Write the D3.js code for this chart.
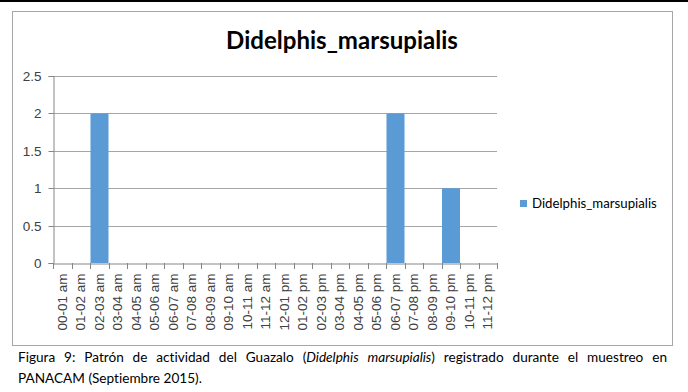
<!DOCTYPE html>
<html><head><meta charset="utf-8">
<script src="https://cdn.jsdelivr.net/npm/d3@7/dist/d3.min.js"></script>
<style>
html,body{margin:0;padding:0;background:#fff;}
svg{display:block;}
text{font-variant-ligatures:none;font-feature-settings:"liga" 0, "dlig" 0;}
</style></head>
<body>
<script>
const categories = ["00-01 am","01-02 am","02-03 am","03-04 am","04-05 am","05-06 am","06-07 am","07-08 am","08-09 am","09-10 am","10-11 am","11-12 am","12-01 pm","01-02 pm","02-03 pm","03-04 pm","04-05 pm","05-06 pm","06-07 pm","07-08 pm","08-09 pm","09-10 pm","10-11 pm","11-12 pm"];
const values = [0,0,2,0,0,0,0,0,0,0,0,0,0,0,0,0,0,0,2,0,0,1,0,0];
const yTicks = [0,0.5,1,1.5,2,2.5];
const seriesName = "Didelphis_marsupialis";
const title = "Didelphis_marsupialis";
const captionLine1 = [["Figura",""],["9:",""],["Patrón",""],["de",""],["actividad",""],["del",""],["Guazalo",""],["(","","Didelphis","i"],["marsupialis","i",")",""],["registrado",""],["durante",""],["el",""],["muestreo",""],["en",""]];
const captionLine2 = "PANACAM (Septiembre 2015).";

const W = 688, H = 392;
const svg = d3.select("body").append("svg").attr("width", W).attr("height", H);

// top black rule
svg.append("rect").attr("x",0).attr("y",0).attr("width",W).attr("height",2).attr("fill","#000");

// chart frame
svg.append("rect").attr("x",12.5).attr("y",11.5).attr("width",660).attr("height",334)
  .attr("fill","#fff").attr("stroke","#a6a6a6").attr("stroke-width",1);

const plot = {left:53, right:497, top:76, bottom:263};
const x = d3.scaleBand().domain(categories).range([plot.left, plot.right]).paddingInner(0).paddingOuter(0);
const y = d3.scaleLinear().domain([0,2.5]).range([plot.bottom, plot.top]);

// gridlines
svg.append("g").selectAll("line").data(yTicks.filter(d=>d>0)).join("line")
  .attr("x1",plot.left).attr("x2",plot.right)
  .attr("y1",d=>Math.round(y(d))+0.5).attr("y2",d=>Math.round(y(d))+0.5)
  .attr("stroke","#a6a6a6").attr("stroke-width",1);

// bars
svg.append("g").selectAll("rect").data(values.map((v,i)=>({c:categories[i],v}))).join("rect")
  .attr("x",d=>x(d.c)+0.5).attr("width",x.bandwidth()-0.5)
  .attr("y",d=>y(d.v)).attr("height",d=>y(0)-y(d.v))
  .attr("fill","#5b9bd5");

// y axis
const yAxis = svg.append("g").attr("transform",`translate(${plot.left+0.5},0)`)
  .call(d3.axisLeft(y).tickValues(yTicks).tickSize(5).tickPadding(7).tickFormat(d3.format("")));
yAxis.select(".domain").attr("stroke","#868686");
yAxis.selectAll(".tick line").attr("stroke","#868686");
yAxis.selectAll(".tick text").attr("font-family","'Liberation Sans', Arial, sans-serif").attr("font-size",13.5).attr("fill","#404040");
yAxis.selectAll(".tick").attr("transform",d=>`translate(0,${Math.round(y(d))+0.5})`);

// x axis
const xAxis = svg.append("g").attr("transform",`translate(0,${plot.bottom+0.5})`)
  .call(d3.axisBottom(x).tickSize(0).tickPadding(0));
xAxis.select(".domain").attr("stroke","#868686");
xAxis.selectAll(".tick text")
  .attr("font-family","'Liberation Sans', Arial, sans-serif").attr("font-size",13.5).attr("fill","#404040")
  .attr("transform","rotate(-90)").attr("text-anchor","end").attr("dy","0.35em").attr("x",-10).attr("y",0);
// category boundary tick marks
const bounds = categories.map(c=>x(c)).concat([plot.right]);
svg.append("g").selectAll("line").data(bounds).join("line")
  .attr("x1",d=>Math.round(d)+0.5).attr("x2",d=>Math.round(d)+0.5)
  .attr("y1",plot.bottom).attr("y2",plot.bottom+6)
  .attr("stroke","#868686");

// helper to fit text width
function fit(sel, target){
  const w = sel.node().getComputedTextLength();
  const fs = parseFloat(sel.attr("font-size"));
  sel.attr("font-size", fs*target/w);
}

// title
const t = svg.append("text").attr("x",342).attr("y",49).attr("text-anchor","middle")
  .attr("font-family","Lato, 'Open Sans', sans-serif").attr("font-weight","bold")
  .attr("font-size",22).attr("fill","#000").text(title);
fit(t, 232);

// legend
svg.append("rect").attr("x",520).attr("y",200).attr("width",7).attr("height",7).attr("fill","#5b9bd5");
const lt = svg.append("text").attr("x",532).attr("y",208)
  .attr("font-family","Lato, 'Open Sans', sans-serif").attr("font-size",13).attr("fill","#000").text(seriesName);
fit(lt, 125);

// caption
const capFont = "Lato, 'Open Sans', sans-serif";
const capSize = 13.6;
const capLeft = 18, capRight = 667;
const words = captionLine1.map(parts=>{
  const g = svg.append("text").attr("y",362).attr("font-family",capFont).attr("font-size",capSize).attr("fill","#000");
  for(let i=0;i<parts.length;i+=2){
    g.append("tspan").attr("font-style",parts[i+1]==="i"?"italic":"normal").text(parts[i]);
  }
  return g;
});
const widths = words.map(w=>w.node().getComputedTextLength());
const total = d3.sum(widths);
const gap = (capRight-capLeft-total)/(words.length-1);
let cx = capLeft;
words.forEach((w,i)=>{ w.attr("x",cx); cx += widths[i]+gap; });
svg.append("text").attr("x",capLeft).attr("y",383).attr("font-family",capFont).attr("font-size",capSize).attr("fill","#000").text(captionLine2);
</script>
</body></html>
